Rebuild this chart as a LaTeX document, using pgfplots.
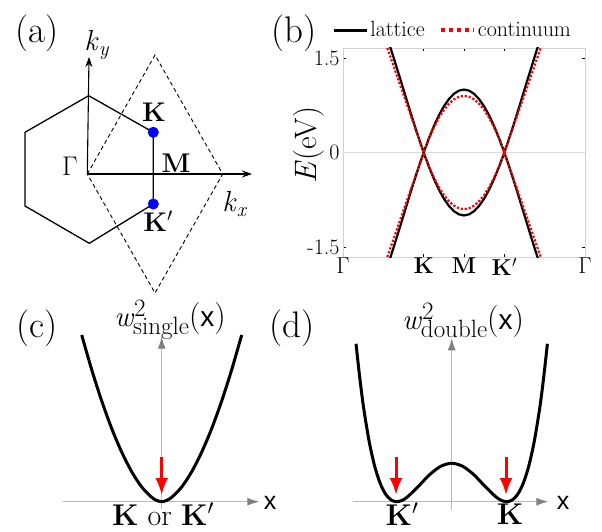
\RequirePackage{fix-cm}
\documentclass[border=0pt]{standalone}
\usepackage{fontspec}
\newfontfamily\arial{Liberation Sans}
\usepackage{pgfplots}
\pgfplotsset{compat=1.18}
\usepackage{pgfplotstable}
\usetikzlibrary{arrows.meta}

% band structure along Gamma-K-M-K'-Gamma (x: Gamma=0, K=2, M=3, K'=4, Gamma=6)
\pgfplotstableread{
x     Eu     El
1.1   1.813  -1.813
1.2   1.618  -1.618
1.3   1.416  -1.416
1.4   1.209  -1.209
1.5   1.0    -1.0
1.6   0.791  -0.791
1.7   0.584  -0.584
1.8   0.382  -0.382
1.9   0.187  -0.187
2.0   0      0
2.125 0.218  -0.218
2.25  0.414  -0.414
2.375 0.587  -0.587
2.5   0.732  -0.732
2.625 0.848  -0.848
2.75  0.932  -0.932
2.875 0.983  -0.983
3.0   1.0    -1.0
3.125 0.983  -0.983
3.25  0.932  -0.932
3.375 0.848  -0.848
3.5   0.732  -0.732
3.625 0.587  -0.587
3.75  0.414  -0.414
3.875 0.218  -0.218
4.0   0      0
4.1   0.187  -0.187
4.2   0.382  -0.382
4.3   0.584  -0.584
4.4   0.791  -0.791
4.5   1.0    -1.0
4.6   1.209  -1.209
4.7   1.416  -1.416
4.8   1.618  -1.618
4.9   1.813  -1.813
}\lattice

\pgfplotstableread{
x     Eu     El
1.0   1.84   -1.84
1.5   0.92   -0.92
2.0   0      0
2.125 0.211  -0.211
2.25  0.394  -0.394
2.375 0.548  -0.548
2.5   0.675  -0.675
2.625 0.773  -0.773
2.75  0.844  -0.844
2.875 0.886  -0.886
3.0   0.9    -0.9
3.125 0.886  -0.886
3.25  0.844  -0.844
3.375 0.773  -0.773
3.5   0.675  -0.675
3.625 0.548  -0.548
3.75  0.394  -0.394
3.875 0.211  -0.211
4.0   0      0
4.5   0.92   -0.92
5.0   1.84   -1.84
}\continuum

\newcommand\fs[1]{\fontsize{#1}{#1}\selectfont}
\newcommand\Kp{\textbf{K}$'$}
\newcommand\wlab[1]{\fs{29}\textit{w}\raisebox{10pt}{\fs{25}2}\kern-12.5pt\raisebox{-8pt}{\fs{25}#1}\fs{32}({\arial\fs{28}x})}

\tikzset{
  plab/.style={font=\fontsize{37}{40}\selectfont},
  gax/.style={gray!55, line width=1.1pt, -{Latex[length=12pt,width=8pt,color=gray]}},
  redarr/.style={red, line width=3pt, -{Latex[length=17pt,width=13pt]}},
}

\begin{document}
\begin{tikzpicture}
\useasboundingbox (0,0) rectangle (602pt,531pt);

% canvas axis in pixel units (y downwards as negative) for panels a, c, d
\begin{axis}[at={(0pt,0pt)}, anchor=south west, scale only axis,
  width=602pt, height=531pt, xmin=0, xmax=602, ymin=-531, ymax=0,
  enlargelimits=false, hide axis, clip=false]

% (a) Brillouin zone
\addplot[black, line width=0.9pt, dash pattern=on 4pt off 3pt] coordinates {
  (87.3,-174) (155,-55) (222.7,-174) (155,-293) (87.3,-174)};
\addplot[black, line width=1.3pt, line join=round] coordinates {
  (88.7,-95.7) (153.3,-132.3) (153.3,-204) (89.3,-243.3) (25,-206) (25,-132.3) (88.7,-95.7)};
\addplot[black, line width=1.1pt, -{Stealth[length=10pt,width=7pt]}] coordinates {(87.3,-174) (89,-57)};
\addplot[black, line width=1.1pt, -{Stealth[length=10pt,width=7pt]}] coordinates {(87.3,-174) (252,-174)};
\addplot[only marks, mark=*, mark size=5.3pt, blue] coordinates {(153.3,-132.3) (153.3,-204)};

\node[plab] at (axis cs:37,-33) {(a)};
\node at (axis cs:97,-45) {\fs{29}\textit{k}\textsubscript{\textit{y}}};
\node at (axis cs:154,-112) {\fs{27}\textbf{K}};
\node at (axis cs:176,-163) {\fs{27}\textbf{M}};
\node at (axis cs:70,-166) {\fs{27}Γ};
\node at (axis cs:235,-204) {\fs{29}\textit{k}\textsubscript{\textit{x}}};
\node at (axis cs:158,-221) {\fs{27}\Kp};

% (c) single well
\addplot[gax] coordinates {(63.3,-501.7) (259.3,-501.7)};
\addplot[gax] coordinates {(161.7,-509) (161.7,-336.7)};
\addplot[black, line width=3pt, smooth] coordinates {
  (81.7,-335) (91.7,-369.7) (101.7,-400.9) (111.7,-428.5) (121.7,-452.1)
  (131.7,-471.7) (141.7,-487) (151.7,-497.3) (156.7,-500.4) (161.7,-501.7)
  (166.7,-500.4) (171.7,-497.3) (181.7,-487) (191.7,-471.7) (201.7,-452.1)
  (211.7,-428.5) (221.7,-400.9) (231.7,-369.7) (241.7,-335)};
\addplot[redarr] coordinates {(161.7,-457) (161.7,-495)};

\node[plab] at (axis cs:37,-328) {(c)};
\node[inner sep=0pt] at (axis cs:170,-320) {\wlab{single}};
\node at (axis cs:270,-503) {\fs{25}\arial x};
\node[inner sep=1pt] at (axis cs:163,-514) {\fs{30}\textbf{K} or \Kp};

% (d) double well
\addplot[gax] coordinates {(353.3,-501.7) (548.3,-501.7)};
\addplot[gax] coordinates {(451.7,-510) (451.7,-338.3)};
\addplot[black, line width=3pt, smooth] coordinates {
  (356,-343.8) (359.9,-378.8) (363.7,-408.3) (369.2,-441.7) (374.7,-466.3)
  (380.2,-483.4) (385.7,-494.3) (391.2,-500.0) (396.7,-501.7) (402.2,-500.3)
  (407.7,-496.7) (418.7,-486.0) (429.7,-474.6) (440.7,-466.3) (451.7,-463.3)
  (462.7,-466.3) (473.7,-474.6) (484.7,-486.0) (495.7,-496.7) (501.2,-500.3)
  (506.7,-501.7) (512.2,-500.0) (517.7,-494.3) (523.2,-483.4) (528.7,-466.3)
  (534.2,-441.7) (539.7,-408.3) (543.5,-378.8) (547.4,-343.8)};
\addplot[redarr] coordinates {(396,-457) (396,-495)};
\addplot[redarr] coordinates {(506,-457) (506,-495)};

\node[plab] at (axis cs:292,-328) {(d)};
\node[inner sep=0pt] at (axis cs:463,-320) {\wlab{double}};
\node at (axis cs:563,-503) {\fs{25}\arial x};
\node[inner sep=1pt] at (axis cs:402,-514) {\fs{30}\Kp};
\node[inner sep=1pt] at (axis cs:510,-514) {\fs{30}\textbf{K}};
\end{axis}

\node[plab] at (294pt,498pt) {(b)};

% (b) band structure
\begin{axis}[at={(343pt,274pt)}, anchor=south west, scale only axis,
  width=242pt, height=209pt,
  xmin=0, xmax=6, ymin=-1.66, ymax=1.66,
  axis line style={gray!35, line width=0.6pt},
  xtick={0,2,3,4,6},
  xticklabels={Γ,\textbf{K},\textbf{M},\Kp,Γ},
  ytick={-1.5,0,1.5}, yticklabels={-1.5,0,1.5},
  tick align=inside, major tick length=3pt,
  tick style={black, line width=0.6pt},
  tick label style={font=\fontsize{22}{24}\selectfont},
  xticklabel style={inner sep=1pt, font=\fontsize{23}{25}\selectfont},
  ylabel={\textit{E}(eV)},
  ylabel style={font=\fontsize{31}{33}\selectfont, at={(axis description cs:-0.14,0.536)}, anchor=center},
  legend style={at={(axis description cs:-0.045,1.086)}, anchor=west, draw=none, fill=none,
    inner sep=0pt, font=\fontsize{22}{24}\selectfont, legend columns=2,
    /tikz/every even column/.append style={column sep=12pt}},
  legend image code/.code={\draw[#1] (0pt,0pt) -- (33pt,0pt);},
]
\addlegendimage{black, line width=3pt}
\addlegendentry{lattice}
\addlegendimage{red, line width=4pt, dash pattern=on 4pt off 4pt}
\addlegendentry{continuum}
\addplot[gray!30, line width=0.6pt, forget plot] coordinates {(0,0) (6,0)};
\addplot[black, line width=2.2pt, forget plot] table[x=x, y=Eu] {\lattice};
\addplot[black, line width=2.2pt, forget plot] table[x=x, y=El] {\lattice};
\addplot[red, line width=2.2pt, dash pattern=on 2.2pt off 1.8pt, forget plot] table[x=x, y=Eu] {\continuum};
\addplot[red, line width=2.2pt, dash pattern=on 2.2pt off 1.8pt, forget plot] table[x=x, y=El] {\continuum};
\end{axis}
\end{tikzpicture}
\end{document}
